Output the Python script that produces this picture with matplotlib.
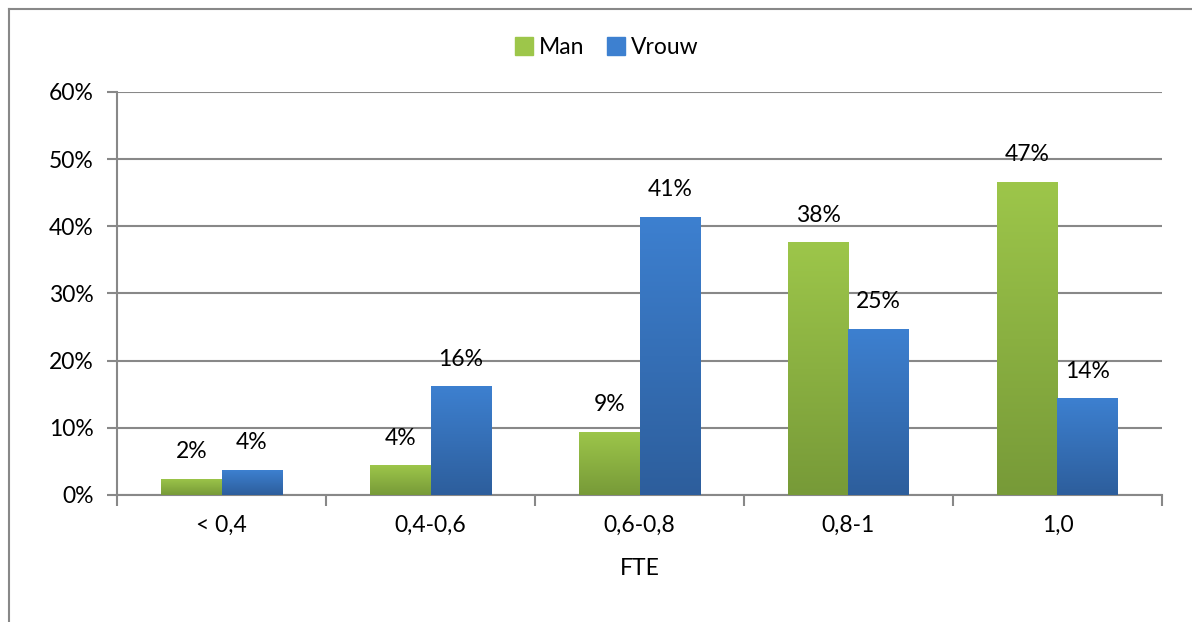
import numpy as np
import matplotlib.pyplot as plt
from matplotlib.lines import Line2D
from matplotlib.colors import LinearSegmentedColormap
from matplotlib.ticker import FuncFormatter, FixedLocator

plt.rcParams['font.family'] = ['Lato', 'DejaVu Sans']

# data
categories = ['< 0,4', '0,4-0,6', '0,6-0,8', '0,8-1', '1,0']
man = [2.4, 4.4, 9.4, 37.6, 46.6]
vrouw = [3.7, 16.2, 41.4, 24.7, 14.4]

green_top, green_bot = '#9dc64a', '#779a38'
blue_top, blue_bot = '#3d80d0', '#2d5e9c'
grey = '#888888'
fs = 16.5

fig = plt.figure(figsize=(11.92, 6.22), dpi=100)
ax = fig.add_axes([0.0982, 0.2042, 0.8766, 0.6479])

x = np.arange(len(categories))
w = 0.29


def gradient_bars(xs, vals, top, bot, label):
    bars = ax.bar(xs, vals, w, color=top, label=label, zorder=3, linewidth=0)
    cmap = LinearSegmentedColormap.from_list('g', [bot, top])
    grad = np.linspace(0, 1, 256).reshape(-1, 1)
    for b in bars:
        bx, by = b.get_x(), b.get_y()
        im = ax.imshow(grad, cmap=cmap, origin='lower', aspect='auto',
                       extent=[bx, bx + b.get_width(), by, by + b.get_height()],
                       zorder=3.1)
        im.set_clip_path(b)
    return bars


bm = gradient_bars(x - w / 2, man, green_top, green_bot, 'Man')
bv = gradient_bars(x + w / 2, vrouw, blue_top, blue_bot, 'Vrouw')

for bars, vals in ((bm, man), (bv, vrouw)):
    for b, v in zip(bars, vals):
        ax.annotate(f'{v:.0f}%', (b.get_x() + b.get_width() / 2, v),
                    xytext=(0, 12), textcoords='offset points',
                    ha='center', va='bottom', fontsize=fs, color='black', zorder=5)

ax.set_xlim(-0.5, len(categories) - 0.5)
ax.set_ylim(0, 60)
ax.set_yticks(range(0, 61, 10))
ax.yaxis.set_major_formatter(FuncFormatter(lambda v, p: f'{v:.0f}%'))
ax.set_xticks(x)
ax.set_xticklabels(categories)
ax.xaxis.set_minor_locator(FixedLocator(np.arange(-0.5, len(categories), 1)))
ax.tick_params(axis='x', which='major', length=0, pad=14, labelsize=fs)
ax.tick_params(axis='x', which='minor', length=8, width=1.5, color=grey, direction='out')
ax.tick_params(axis='y', length=7, width=1.5, color=grey, pad=10, labelsize=fs)
ax.grid(axis='y', color=grey, linewidth=1.5, zorder=0)
ax.set_axisbelow(True)
for s in ('top', 'right'):
    ax.spines[s].set_visible(False)
for s in ('left', 'bottom'):
    ax.spines[s].set_color(grey)
    ax.spines[s].set_linewidth(1.5)
ax.set_xlabel('FTE', fontsize=fs, labelpad=16)

handles = [Line2D([], [], marker='s', linestyle='', markersize=13, color=green_top),
           Line2D([], [], marker='s', linestyle='', markersize=13, color=blue_top)]
fig.legend(handles, ['Man', 'Vrouw'], loc='center', bbox_to_anchor=(0.508, 0.924),
           ncol=2, frameon=False, fontsize=fs, handletextpad=0.15, columnspacing=0.9,
           handlelength=1.0)

# outer chart frame (cut off at right and bottom)
fig.add_artist(Line2D([0.0076, 0.0076], [0, 0.9855], color=grey, linewidth=1.5,
                      transform=fig.transFigure))
fig.add_artist(Line2D([0.0076, 1], [0.9855, 0.9855], color=grey, linewidth=1.5,
                      transform=fig.transFigure))

plt.savefig('out.png', dpi=100)
